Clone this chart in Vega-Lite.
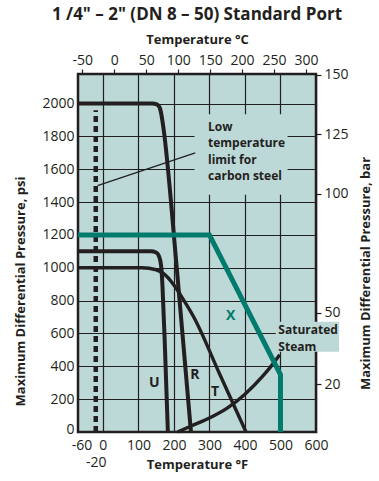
{
  "$schema": "https://vega.github.io/schema/vega-lite/v6.json",
  "width": 238,
  "height": 358,
  "autosize": {"type": "none"},
  "padding": {"left": 78, "top": 74, "right": 63, "bottom": 49},
  "background": "white",
  "config": {
    "font": "Open Sans",
    "view": {"fill": "#bcd8d7", "stroke": "#231f20", "strokeWidth": 2.5},
    "axis": {
      "labelFont": "Open Sans", "labelFontSize": 14, "labelColor": "#231f20",
      "titleFont": "Open Sans", "titleFontSize": 13, "titleFontWeight": "bold", "titleColor": "#231f20",
      "domain": false, "gridColor": "#231f20", "gridOpacity": 1, "gridWidth": 1.2,
      "tickColor": "#231f20", "tickWidth": 1.2, "tickSize": 5,
      "labelFlush": false, "labelOverlap": false, "labelBound": false
    }
  },
  "title": {"text": "1 /4\" – 2\" (DN 8 – 50) Standard Port", "fontSize": 17, "fontWeight": "bold", "color": "#231f20", "anchor": "middle", "frame": "group", "offset": 9, "font": "Open Sans"},
  "datasets": {
    "curves": [
      {"s": "R", "f": -70, "p": 2000}, {"s": "R", "f": 140, "p": 2000}, {"s": "R", "f": 152, "p": 1995}, {"s": "R", "f": 160, "p": 1975}, {"s": "R", "f": 165, "p": 1930}, {"s": "R", "f": 170, "p": 1860}, {"s": "R", "f": 208, "p": 1000}, {"s": "R", "f": 248, "p": 0},
      {"s": "U", "f": -70, "p": 1100}, {"s": "U", "f": 135, "p": 1100}, {"s": "U", "f": 150, "p": 1093}, {"s": "U", "f": 158, "p": 1070}, {"s": "U", "f": 162, "p": 1040}, {"s": "U", "f": 165, "p": 990}, {"s": "U", "f": 168, "p": 880}, {"s": "U", "f": 175, "p": 500}, {"s": "U", "f": 183, "p": 0},
      {"s": "T", "f": -70, "p": 1000}, {"s": "T", "f": 110, "p": 1000}, {"s": "T", "f": 150, "p": 988}, {"s": "T", "f": 180, "p": 947}, {"s": "T", "f": 203, "p": 886}, {"s": "T", "f": 227, "p": 805}, {"s": "T", "f": 255, "p": 703}, {"s": "T", "f": 330, "p": 347}, {"s": "T", "f": 403, "p": 0},
      {"s": "Steam", "f": 210, "p": 0}, {"s": "Steam", "f": 250, "p": 38}, {"s": "Steam", "f": 300, "p": 85}, {"s": "Steam", "f": 350, "p": 145}, {"s": "Steam", "f": 400, "p": 230}, {"s": "Steam", "f": 450, "p": 340}, {"s": "Steam", "f": 480, "p": 418}, {"s": "Steam", "f": 498, "p": 470}
    ],
    "xcurve": [
      {"s": "X", "f": -70, "p": 1200}, {"s": "X", "f": 300, "p": 1200}, {"s": "X", "f": 500, "p": 350}, {"s": "X", "f": 500, "p": 0}
    ],
    "masks": [
      {"f": 258, "f2": 520, "p": 1445, "p2": 1935},
      {"f": 487, "f2": 665, "p": 488, "p2": 671}
    ],
    "limit": [{"f": -20, "p": 0, "p2": 1960}],
    "leader": [{"f": -15, "p": 1500, "f2": 260, "p2": 1700}],
    "labels": [
      {"f": 145, "p": 296, "t": "U"}, {"f": 259, "p": 348, "t": "R"}, {"f": 316, "p": 246, "t": "T"}
    ],
    "xlabel": [{"f": 360, "p": 709, "t": "X"}],
    "notes": [
      {"f": 296, "p": 1860, "t": "Low"}, {"f": 296, "p": 1762, "t": "temperature"}, {"f": 296, "p": 1659, "t": "limit for"}, {"f": 296, "p": 1561, "t": "carbon steel"},
      {"f": 494, "p": 622, "t": "Saturated"}, {"f": 494, "p": 520, "t": "Steam"}
    ],
    "conv": [{"c": 0, "b": 0}]
  },
  "layer": [
    {
      "encoding": {
        "x": {"field": "f", "type": "quantitative",
          "scale": {"domain": [-70, 600], "nice": false, "zero": false},
          "axis": {"orient": "bottom", "values": [-60, -20, 0, 100, 200, 300, 400, 500, 600],
            "labelExpr": "datum.value == -20 ? ['', '-20'] : toString(datum.value)",
            "ticks": false, "labelPadding": 6, "labelLineHeight": 17,
            "grid": true, "gridOpacity": {"condition": {"test": "datum.value < 0", "value": 0}, "value": 1},
            "title": "Temperature °F", "titleY": 26, "titleBaseline": "top"}},
        "y": {"field": "p", "type": "quantitative",
          "scale": {"domain": [0, 2180], "nice": false, "zero": false},
          "axis": {"orient": "left", "values": [0, 200, 400, 600, 800, 1000, 1200, 1400, 1600, 1800, 2000],
            "labelExpr": "toString(datum.value)",
            "labelOffset": {"condition": {"test": "datum.value == 0", "value": -3}, "value": 0},
            "ticks": false, "labelPadding": 4, "grid": true,
            "title": "Maximum Differential Pressure, psi", "titleY": 217, "titlePadding": 14}}
      },
      "layer": [
        {"data": {"name": "masks"}, "mark": {"type": "rect", "fill": "#bcd8d7"},
          "encoding": {"x2": {"field": "f2"}, "y2": {"field": "p2"}}},
        {"data": {"name": "limit"}, "mark": {"type": "rule", "color": "#231f20", "strokeWidth": 4.5, "strokeDash": [6, 4]},
          "encoding": {"y2": {"field": "p2"}}},
        {"data": {"name": "leader"}, "mark": {"type": "rule", "color": "#231f20", "strokeWidth": 1.2},
          "encoding": {"x2": {"field": "f2"}, "y2": {"field": "p2"}}},
        {"data": {"name": "curves"}, "transform": [{"filter": "datum.s == 'R' || datum.s == 'U'"}],
          "mark": {"type": "line", "color": "#231f20", "strokeWidth": 4, "interpolate": "monotone"},
          "encoding": {"detail": {"field": "s"}}},
        {"data": {"name": "curves"}, "transform": [{"filter": "datum.s == 'T' || datum.s == 'Steam'"}],
          "mark": {"type": "line", "color": "#231f20", "strokeWidth": 3.4, "interpolate": "monotone"},
          "encoding": {"detail": {"field": "s"}}},
        {"data": {"name": "xcurve"}, "mark": {"type": "line", "color": "#007b6c", "strokeWidth": 5, "strokeJoin": "miter"},
          "encoding": {"order": {"field": "p", "sort": "descending"}}},
        {"data": {"name": "labels"}, "mark": {"type": "text", "fontSize": 14, "fontWeight": "bold", "color": "#231f20"},
          "encoding": {"text": {"field": "t"}}},
        {"data": {"name": "xlabel"}, "mark": {"type": "text", "fontSize": 14, "fontWeight": "bold", "color": "#007b6c"},
          "encoding": {"text": {"field": "t"}}},
        {"data": {"name": "notes"}, "mark": {"type": "text", "fontSize": 12, "fontWeight": "bold", "color": "#231f20", "align": "left", "baseline": "middle"},
          "encoding": {"text": {"field": "t"}}}
      ]
    },
    {
      "data": {"name": "conv"},
      "mark": {"type": "point", "opacity": 0},
      "encoding": {
        "x": {"field": "c", "type": "quantitative",
          "scale": {"domain": [-56.667, 315.556], "nice": false, "zero": false},
          "axis": {"orient": "top", "values": [-50, 0, 50, 100, 150, 200, 250, 300], "grid": false,
            "labelExpr": "toString(datum.value)",
            "labelPadding": 2, "title": "Temperature °C", "titlePadding": 7}},
        "y": {"field": "b", "type": "quantitative",
          "scale": {"domain": [0, 150.3], "nice": false, "zero": false},
          "axis": {"orient": "right", "values": [20, 50, 100, 125, 150], "grid": false,
            "labelExpr": "toString(datum.value)",
            "labelPadding": 3, "title": "Maximum Differential Pressure, bar", "titleAngle": 270, "titleY": 199, "titlePadding": 24}}
      }
    }
  ],
  "resolve": {"scale": {"x": "independent", "y": "independent"}}
}
